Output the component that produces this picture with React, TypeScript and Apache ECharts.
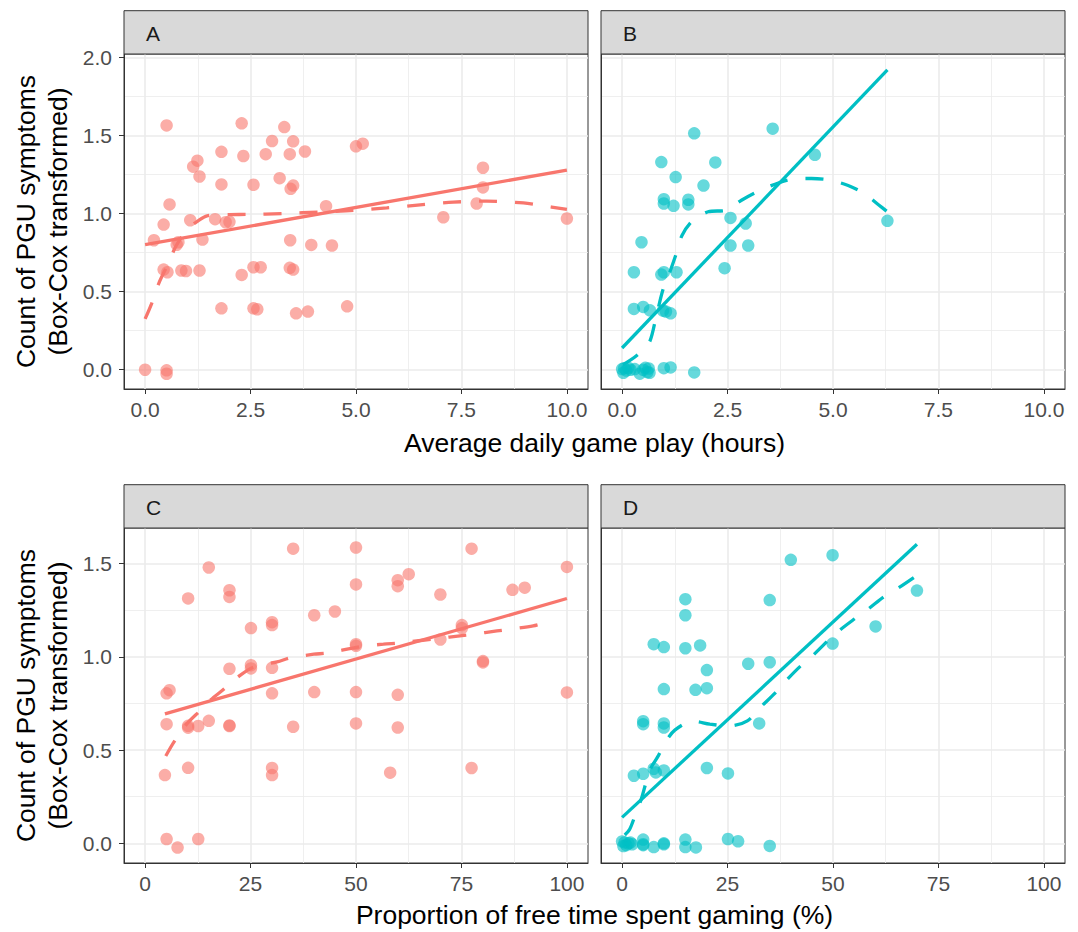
import React, { useEffect, useRef } from "react";
import * as echarts from "echarts";

const PINK = "#F8766D";
const TEAL = "#00BFC4";
const FONT = "Liberation Sans, Arial, sans-serif";

// Panel A: average daily hours vs PGU (group 1)
const pointsA: number[][] = [
  [0.51, 1.564], [2.29, 1.577], [3.3, 1.553], [3.01, 1.464], [3.51, 1.462], [1.81, 1.395],
  [2.33, 1.368], [2.86, 1.38], [3.43, 1.38], [3.79, 1.397], [5.0, 1.43], [5.16, 1.447],
  [1.24, 1.338], [1.14, 1.3], [1.29, 1.237], [1.81, 1.186], [2.57, 1.184], [3.19, 1.226],
  [3.51, 1.179], [3.45, 1.158], [8.01, 1.293], [8.01, 1.167], [7.86, 1.064], [0.58, 1.058],
  [4.29, 1.047], [7.07, 0.976], [10.0, 0.968], [0.44, 0.929], [1.07, 0.957], [1.66, 0.964],
  [1.91, 0.944], [2.0, 0.947], [0.21, 0.829], [0.79, 0.816], [0.75, 0.8], [1.36, 0.833],
  [3.44, 0.829], [3.94, 0.799], [4.43, 0.795], [0.44, 0.641], [0.53, 0.624], [0.86, 0.635],
  [0.97, 0.632], [1.29, 0.635], [2.29, 0.607], [2.57, 0.656], [2.74, 0.656], [3.43, 0.652],
  [3.51, 0.641], [1.81, 0.393], [2.57, 0.393], [2.66, 0.387], [3.58, 0.361], [3.86, 0.372],
  [4.79, 0.406], [0, 0], [0.51, -0.004], [0.51, -0.026],
];
const lmA: number[][] = [[0, 0.8], [10, 1.278]];
const loessA: number[][] = [
  [0, 0.325], [0.15, 0.42], [0.33, 0.556], [0.55, 0.68], [0.73, 0.79], [1.0, 0.9], [1.24, 0.95],
  [1.47, 0.985], [2.0, 0.993], [2.42, 0.994], [3.29, 1.0], [4.16, 1.01], [4.94, 1.02], [5.73, 1.036],
  [6.52, 1.055], [7.31, 1.073], [8.1, 1.079], [8.97, 1.068], [9.36, 1.053], [10.0, 1.026],
];

// Panel B: average daily hours vs PGU (group 2)
const pointsB: number[][] = [
  [1.71, 1.513], [3.57, 1.543], [4.57, 1.376], [0.93, 1.329], [2.21, 1.327], [1.27, 1.233],
  [1.93, 1.179], [0.99, 1.092], [0.99, 1.064], [1.22, 1.049], [1.57, 1.088], [1.57, 1.058],
  [6.29, 0.953], [2.57, 0.972], [2.93, 0.936], [2.57, 0.795], [2.99, 0.795], [0.46, 0.816],
  [0.28, 0.624], [0.93, 0.609], [0.99, 0.624], [1.29, 0.624], [2.43, 0.65], [0.28, 0.389],
  [0.5, 0.402], [0.66, 0.38], [0.97, 0.378], [1.04, 0.372], [1.15, 0.361],
  [0, 0.004], [0.03, -0.02], [0.05, 0.01], [0.1, -0.005], [0.15, 0.012], [0.2, 0.0],
  [0.3, 0.004], [0.42, -0.025], [0.5, 0.0], [0.55, 0.012], [0.6, -0.015], [0.63, 0.008],
  [0.65, -0.02], [0.99, 0.01], [1.15, 0.015], [1.71, -0.017],
];
const lmB: number[][] = [[0, 0.139], [6.29, 1.919]];
const loessB: number[][] = [
  [0.02, 0.032], [0.34, 0.09], [0.64, 0.171], [0.81, 0.342], [0.97, 0.513], [1.13, 0.624],
  [1.29, 0.748], [1.42, 0.859], [1.66, 0.951], [2.04, 1.011], [2.47, 1.021], [2.83, 1.085],
  [3.23, 1.143], [3.72, 1.197], [4.09, 1.222], [4.49, 1.224], [4.92, 1.214], [5.36, 1.179],
  [5.74, 1.128], [6.07, 1.058], [6.29, 1.011],
];

// Panel C: proportion of free time vs PGU (group 1)
const pointsC: number[][] = [
  [35.1, 1.58], [50.0, 1.586], [77.4, 1.58], [100, 1.482], [15.1, 1.479], [10.2, 1.313],
  [20.0, 1.357], [20.0, 1.321], [50.0, 1.388], [59.9, 1.411], [59.9, 1.379], [62.5, 1.443],
  [70.0, 1.334], [87.1, 1.359], [90.0, 1.371], [25.1, 1.154], [30.1, 1.186], [30.1, 1.17],
  [40.1, 1.223], [45.0, 1.243], [50.0, 1.068], [50.0, 1.059], [75.1, 1.17], [75.1, 1.154],
  [70.0, 1.093], [80.1, 0.977], [80.1, 0.97], [20.0, 0.936], [25.1, 0.955], [25.1, 0.938],
  [30.1, 0.941], [5.1, 0.804], [5.8, 0.821], [30.1, 0.804], [40.1, 0.811], [50.0, 0.811],
  [59.9, 0.796], [100, 0.809], [5.1, 0.639], [10.2, 0.63], [10.2, 0.62], [12.6, 0.629],
  [15.1, 0.657], [20.0, 0.632], [20.0, 0.629], [35.1, 0.625], [50.0, 0.643], [59.9, 0.621],
  [4.7, 0.366], [10.2, 0.405], [30.1, 0.404], [30.1, 0.366], [58.1, 0.379], [77.4, 0.404],
  [5.1, 0.023], [7.7, -0.023], [12.6, 0.023],
];
const lmC: number[][] = [[4.7, 0.694], [100, 1.3125]];
const loessC: number[][] = [
  [4.9, 0.468], [6.9, 0.545], [10.0, 0.643], [13.2, 0.714], [15.5, 0.768], [18.7, 0.827],
  [22.6, 0.902], [25.8, 0.946], [31.3, 0.973], [34.5, 0.995], [40, 1.014], [43.1, 1.02],
  [51, 1.054], [56.5, 1.068], [60.5, 1.075], [69.2, 1.098], [75.1, 1.114], [77.8, 1.121],
  [83.4, 1.139], [87.3, 1.15], [92, 1.166], [95.6, 1.188],
];

// Panel D: proportion of free time vs PGU (group 2)
const pointsD: number[][] = [
  [40.0, 1.52], [49.9, 1.545], [69.9, 1.355], [60.1, 1.163], [49.9, 1.071], [15.0, 1.309],
  [15.0, 1.223], [35.0, 1.304], [7.5, 1.068], [9.9, 1.052], [15.0, 1.046], [18.5, 1.061],
  [20.1, 0.929], [29.9, 0.963], [35.0, 0.971], [9.9, 0.827], [17.4, 0.823], [20.1, 0.832],
  [5.0, 0.655], [5.0, 0.639], [9.9, 0.643], [9.9, 0.621], [32.5, 0.643], [2.8, 0.3625],
  [5.0, 0.373], [7.5, 0.4], [8.0, 0.38], [9.9, 0.391], [20.1, 0.404], [25.1, 0.375],
  [0, 0.01], [0.3, -0.015], [0.6, 0.005], [1.0, -0.01], [1.5, 0.0], [2.0, 0.004], [2.4, -0.005],
  [5.0, 0.02], [5.0, -0.005], [5.0, -0.01], [7.5, -0.02], [9.9, 0.0], [9.9, -0.005],
  [15.0, 0.02], [15.0, -0.02], [17.5, -0.022], [25.1, 0.023], [27.5, 0.011], [35.0, -0.014],
];
const lmD: number[][] = [[0, 0.139], [69.9, 1.604]];
const loessD: number[][] = [
  [0.63, 0.045], [1.8, 0.075], [3.4, 0.17], [4.6, 0.241], [6.6, 0.393], [8.5, 0.466],
  [10.1, 0.536], [12.5, 0.607], [16.8, 0.655], [20.8, 0.639], [25.5, 0.629], [29.7, 0.657],
  [32.9, 0.732], [36.2, 0.804], [39.0, 0.875], [42.1, 0.946], [45.3, 1.009], [48.5, 1.08],
  [51.6, 1.143], [55.2, 1.205], [58.5, 1.259], [62.0, 1.321], [65.6, 1.371], [69.4, 1.429],
];

const hourTicks = [0, 2.5, 5, 7.5, 10];
const hourMinor = [1.25, 3.75, 6.25, 8.75];
const pctTicks = [0, 25, 50, 75, 100];
const pctMinor = [12.5, 37.5, 62.5, 87.5];
const pguTicksTop = [0, 0.5, 1, 1.5, 2];
const pguMinorTop = [0.25, 0.75, 1.25, 1.75];
const pguTicksBottom = [0, 0.5, 1, 1.5];
const pguMinorBottom = [0.25, 0.75, 1.25];

const stripLabels = ["A", "B", "C", "D"];
const xTitleTop = "Average daily game play (hours)";
const xTitleBottom = "Proportion of free time spent gaming (%)";
const yTitle = "Count of PGU symptoms\n(Box-Cox transformed)";

export default function App() {
  const ref = useRef<HTMLDivElement>(null);

  useEffect(() => {
    if (!ref.current) return;
    const chart = echarts.init(ref.current, null, { renderer: "svg" });

    const panels = [
      { left: 124, top: 54, pts: pointsA, lm: lmA, lo: loessA, color: PINK, x: [-0.5, 10.5], xt: hourTicks, xm: hourMinor, xf: (v: number) => v.toFixed(1), y: [-0.1234, 2.021], yt: pguTicksTop, ym: pguMinorTop, yl: true },
      { left: 601, top: 54, pts: pointsB, lm: lmB, lo: loessB, color: TEAL, x: [-0.5, 10.5], xt: hourTicks, xm: hourMinor, xf: (v: number) => v.toFixed(1), y: [-0.1234, 2.021], yt: pguTicksTop, ym: pguMinorTop, yl: false },
      { left: 124, top: 528, pts: pointsC, lm: lmC, lo: loessC, color: PINK, x: [-5, 105], xt: pctTicks, xm: pctMinor, xf: (v: number) => String(Math.round(v)), y: [-0.1055, 1.6907], yt: pguTicksBottom, ym: pguMinorBottom, yl: true },
      { left: 601, top: 528, pts: pointsD, lm: lmD, lo: loessD, color: TEAL, x: [-5, 105], xt: pctTicks, xm: pctMinor, xf: (v: number) => String(Math.round(v)), y: [-0.1055, 1.6907], yt: pguTicksBottom, ym: pguMinorBottom, yl: false },
    ];
    const W = 464;
    const H = 335;

    const grid: any[] = [];
    const xAxis: any[] = [];
    const yAxis: any[] = [];
    const series: any[] = [];
    const graphic: any[] = [];

    panels.forEach((p, i) => {
      grid.push({
        left: p.left, top: p.top, width: W, height: H,
        show: true, backgroundColor: "#ffffff", borderColor: "#333333", borderWidth: 1,
      });
      xAxis.push({
        type: "value", gridIndex: i, min: p.x[0], max: p.x[1], position: "bottom",
        axisLine: { show: true, onZero: false, lineStyle: { color: "#333333", width: 1 } },
        axisTick: { show: true, length: 5, customValues: p.xt, lineStyle: { color: "#333333", width: 1 } },
        axisLabel: { show: true, customValues: p.xt, formatter: p.xf, color: "#4D4D4D", fontSize: 21, fontFamily: FONT, margin: 10 },
        splitLine: { show: true, lineStyle: { color: "#EBEBEB", width: 1.6 } },
      });
      xAxis.push({
        type: "value", gridIndex: i, min: p.x[0], max: p.x[1], position: "top",
        axisLine: { show: false, onZero: false },
        axisTick: { show: false, customValues: p.xm },
        axisLabel: { show: false },
        splitLine: { show: true, lineStyle: { color: "#EBEBEB", width: 0.8 } },
      });
      yAxis.push({
        type: "value", gridIndex: i, min: p.y[0], max: p.y[1], position: "left",
        axisLine: { show: true, onZero: false, lineStyle: { color: "#333333", width: 1 } },
        axisTick: { show: p.yl, length: 5, customValues: p.yt, lineStyle: { color: "#333333", width: 1 } },
        axisLabel: { show: p.yl, customValues: p.yt, formatter: (v: number) => v.toFixed(1), color: "#4D4D4D", fontSize: 21, fontFamily: FONT, margin: 12 },
        splitLine: { show: true, lineStyle: { color: "#EBEBEB", width: 1.6 } },
      });
      yAxis.push({
        type: "value", gridIndex: i, min: p.y[0], max: p.y[1], position: "right",
        axisLine: { show: false, onZero: false },
        axisTick: { show: false, customValues: p.ym },
        axisLabel: { show: false },
        splitLine: { show: true, lineStyle: { color: "#EBEBEB", width: 0.8 } },
      });
      series.push({
        type: "scatter", xAxisIndex: 2 * i, yAxisIndex: 2 * i, data: p.pts, symbolSize: 12.5, clip: false,
        itemStyle: { color: p.color, opacity: 0.6 }, z: 3,
      });
      series.push({
        type: "line", xAxisIndex: 2 * i, yAxisIndex: 2 * i, data: p.lm, showSymbol: false, symbol: "none",
        lineStyle: { color: p.color, width: 3.3, cap: "butt" }, z: 4,
      });
      series.push({
        type: "line", xAxisIndex: 2 * i, yAxisIndex: 2 * i, data: p.lo, showSymbol: false, symbol: "none",
        smooth: 0.3, lineStyle: { color: p.color, width: 3.3, type: [18, 18], cap: "butt" }, z: 4,
      });
      const stripTop = p.top - 43.3;
      graphic.push({
        type: "rect", shape: { x: p.left, y: stripTop, width: W, height: 43.3 },
        style: { fill: "#D9D9D9", stroke: "#333333", lineWidth: 1 }, z: 10,
      });
      graphic.push({
        type: "text", x: p.left + 22, y: stripTop + 22.5,
        style: { text: stripLabels[i], font: `21px ${FONT}`, fill: "#1A1A1A", textAlign: "left", textVerticalAlign: "middle" }, z: 11,
      });
    });

    graphic.push({
      type: "text", x: 594.5, y: 443,
      style: { text: xTitleTop, font: `26.5px ${FONT}`, fill: "#000000", textAlign: "center", textVerticalAlign: "middle" },
    });
    graphic.push({
      type: "text", x: 594.5, y: 915,
      style: { text: xTitleBottom, font: `26.5px ${FONT}`, fill: "#000000", textAlign: "center", textVerticalAlign: "middle" },
    });
    [221.5, 695.5].forEach((cy) => {
      graphic.push({
        type: "text", x: 42, y: cy, rotation: Math.PI / 2,
        style: { text: yTitle, font: `26.5px ${FONT}`, fill: "#000000", textAlign: "center", textVerticalAlign: "middle", lineHeight: 32 },
      });
    });

    chart.setOption({
      animation: false,
      backgroundColor: "#ffffff",
      grid, xAxis, yAxis, series, graphic,
    });
    return () => chart.dispose();
  }, []);

  return <div ref={ref} style={{ position: "absolute", left: 0, top: 0, width: 1078, height: 932 }} />;
}
